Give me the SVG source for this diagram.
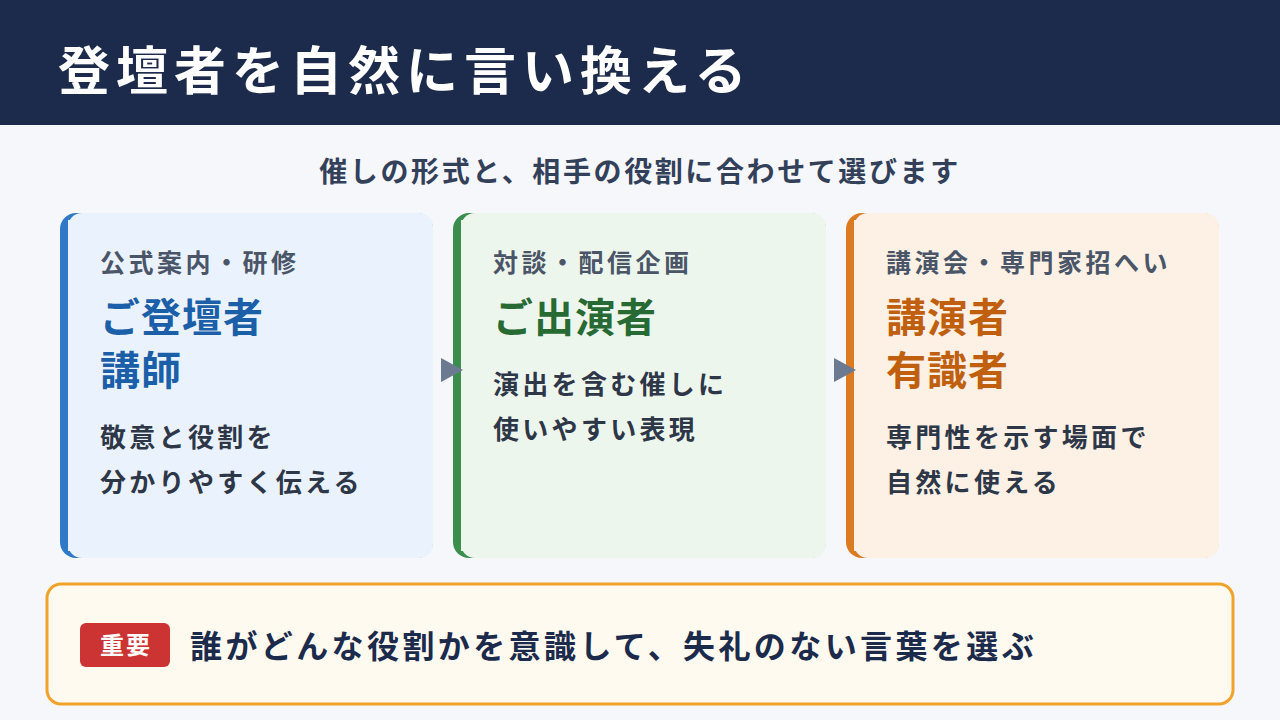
<svg xmlns="http://www.w3.org/2000/svg" width="1280" height="720" viewBox="0 0 1280 720">
<style>
text{font-family:"Noto Sans CJK JP","Noto Sans",sans-serif;font-weight:bold}
.cat{font-size:25px;fill:#4a5568;letter-spacing:3.5px}
.main{font-size:40px;letter-spacing:1px}
.desc{font-size:26px;fill:#2d3748;letter-spacing:3.3px}
</style>
<rect width="1280" height="720" fill="#f5f7fb"/>
<rect width="1280" height="125" fill="#1c2b4b"/>
<text x="58" y="90" font-size="52" fill="#ffffff" letter-spacing="6">登壇者を自然に言い換える</text>
<text x="640" y="182" font-size="28" fill="#33405a" text-anchor="middle" letter-spacing="2.6">催しの形式と、相手の役割に合わせて選びます</text>
<g id="card1">
<rect x="60" y="213" width="373" height="345" rx="16" fill="#2f79c6"/>
<rect x="68" y="213" width="365" height="345" rx="14" fill="#eaf2fd"/>
<rect x="68" y="220" width="20" height="331" fill="#eaf2fd"/>
<text class="cat" x="100" y="272">公式案内・研修</text>
<text class="main" x="100" y="332" fill="#1a5fa8">ご登壇者</text>
<text class="main" x="100" y="385" fill="#1a5fa8">講師</text>
<text class="desc" x="100" y="447">敬意と役割を</text>
<text class="desc" x="100" y="492">分かりやすく伝える</text>
</g>
<g id="card2">
<rect x="453" y="213" width="373" height="345" rx="16" fill="#3a8f4e"/>
<rect x="461" y="213" width="365" height="345" rx="14" fill="#edf6ec"/>
<rect x="461" y="220" width="20" height="331" fill="#edf6ec"/>
<text class="cat" x="493" y="272">対談・配信企画</text>
<text class="main" x="493" y="332" fill="#276a34">ご出演者</text>
<text class="desc" x="493" y="394">演出を含む催しに</text>
<text class="desc" x="493" y="439">使いやすい表現</text>
</g>
<g id="card3">
<rect x="846" y="213" width="373" height="345" rx="16" fill="#dc7a22"/>
<rect x="854" y="213" width="365" height="345" rx="14" fill="#fdf1e5"/>
<rect x="854" y="220" width="20" height="331" fill="#fdf1e5"/>
<text class="cat" x="886" y="272">講演会・専門家招へい</text>
<text class="main" x="886" y="332" fill="#c0600f">講演者</text>
<text class="main" x="886" y="385" fill="#c0600f">有識者</text>
<text class="desc" x="886" y="447">専門性を示す場面で</text>
<text class="desc" x="886" y="492">自然に使える</text>
</g>
<g id="connectors" fill="#6b7a90">
<polygon points="441,358 463,370 441,382"/>
<polygon points="834,358 856,370 834,382"/>
</g>
<g id="note">
<rect x="47" y="584" width="1186" height="120" rx="14" fill="#fffaf0" stroke="#f0a22a" stroke-width="3"/>
<rect x="80" y="623" width="90" height="44" rx="6" fill="#cc3333"/>
<text x="126" y="654" font-size="24" fill="#ffffff" text-anchor="middle" letter-spacing="2">重要</text>
<text x="190" y="658" font-size="32" fill="#1c2b4b" letter-spacing="3.4">誰がどんな役割かを意識して、失礼のない言葉を選ぶ</text>
</g>
</svg>
